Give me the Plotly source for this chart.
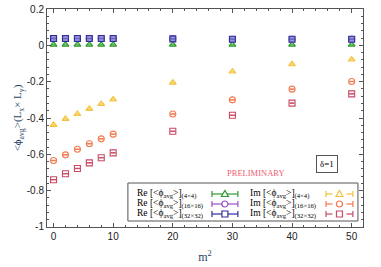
import plotly.graph_objects as go

m2 = [0, 2, 4, 6, 8, 10, 20, 30, 40, 50]

re_4 = [0.004, 0.004, 0.004, 0.004, 0.004, 0.004, 0.004, 0.004, 0.004, 0.004]
re_16 = [0.038, 0.038, 0.038, 0.038, 0.038, 0.038, 0.036, 0.034, 0.034, 0.034]
re_32 = [0.038, 0.038, 0.038, 0.038, 0.038, 0.038, 0.036, 0.034, 0.034, 0.034]
im_4 = [-0.438, -0.405, -0.378, -0.350, -0.323, -0.298, -0.205, -0.144, -0.104, -0.078]
im_16 = [-0.634, -0.603, -0.572, -0.542, -0.515, -0.489, -0.378, -0.300, -0.241, -0.199]
im_32 = [-0.740, -0.707, -0.678, -0.647, -0.619, -0.592, -0.473, -0.385, -0.318, -0.267]

y_ticks = [-1, -0.8, -0.6, -0.4, -0.2, 0, 0.2]
y_labels = ["-1", "-0.8", "-0.6", "-0.4", "-0.2", "0", "0.2"]
x_ticks = [0, 10, 20, 30, 40, 50]
x_labels = ["0", "10", "20", "30", "40", "50"]

PHI = "&lt;ϕ<sub>avg</sub>&gt;"
# (name, values, symbol, line colour, fill colour, legend column, legend row)
series = [
    ("Re [" + PHI + "]<sub>(4×4)</sub>", re_4, "triangle-up", "#2e9a2e", "rgba(120,200,120,0.7)", 0, 0),
    ("Re [" + PHI + "]<sub>(16×16)</sub>", re_16, "circle", "#9a4fc8", "rgba(190,150,220,0.6)", 0, 1),
    ("Re [" + PHI + "]<sub>(32×32)</sub>", re_32, "square", "#2f2f9a", "rgba(130,130,210,0.7)", 0, 2),
    ("Im [" + PHI + "]<sub>(4×4)</sub>", im_4, "triangle-up", "#f2c23c", "rgba(250,220,120,0.7)", 1, 0),
    ("Im [" + PHI + "]<sub>(16×16)</sub>", im_16, "circle", "#f07a50", "rgba(255,255,255,0)", 1, 1),
    ("Im [" + PHI + "]<sub>(32×32)</sub>", im_32, "square", "#c84a64", "rgba(255,255,255,0)", 1, 2),
]

fig = go.Figure()
for name, vals, sym, col, fill, c, r in series:
    fig.add_trace(go.Scatter(
        x=m2, y=vals, mode="markers", name=name, showlegend=False,
        marker=dict(symbol=sym, size=6, color=fill, line=dict(color=col, width=1.1)),
        error_y=dict(type="constant", value=0.001, width=2.5, color=col, thickness=1),
    ))

# ---- hand-built legend (gnuplot style: text left, key right) ----
fig.add_shape(type="rect", xref="paper", yref="paper", x0=0.256, x1=0.984, y0=0.0275, y1=0.2018,
              line=dict(color="#555555", width=1), fillcolor="white", layer="above")
row_y = [0.1514, 0.1055, 0.0596]
text_x = [0.278, 0.636]
key_x = [(0.522, 0.604), (0.883, 0.968)]
for name, vals, sym, col, fill, c, r in series:
    y = row_y[r]
    fig.add_annotation(x=text_x[c], y=y, xref="paper", yref="paper", text=name, showarrow=False,
                       xanchor="left", yanchor="middle",
                       font=dict(family="Liberation Serif", size=9.5, color="black"))
    k0, k1 = key_x[c]
    km = (k0 + k1) / 2
    if c == 0:
        fig.add_shape(type="line", xref="paper", yref="paper", x0=k0, x1=k1, y0=y, y1=y,
                      line=dict(color=col, width=1.2), layer="above")
    else:
        for a, b in ((k0, km - 0.022), (km + 0.022, k1)):
            fig.add_shape(type="line", xref="paper", yref="paper", x0=a, x1=b, y0=y, y1=y,
                          line=dict(color=col, width=1.2), layer="above")
    for kx in (k0, k1):
        fig.add_shape(type="line", xref="paper", yref="paper", xsizemode="pixel", ysizemode="pixel",
                      xanchor=kx, yanchor=y, x0=0, x1=0, y0=-3, y1=3,
                      line=dict(color=col, width=1.2), layer="above")
    common = dict(xref="paper", yref="paper", xsizemode="pixel", ysizemode="pixel",
                  xanchor=km, yanchor=y, line=dict(color=col, width=1.2), layer="above")
    if sym == "circle":
        fig.add_shape(type="circle", x0=-3, x1=3, y0=-3, y1=3, fillcolor="white", **common)
    elif sym == "square":
        fig.add_shape(type="rect", x0=-3, x1=3, y0=-3, y1=3, fillcolor="white", **common)
    else:
        fig.add_shape(type="path", path="M -3.5,-2.5 L 3.5,-2.5 L 0,3.5 Z", fillcolor="white", **common)

fig.add_annotation(x=0.759, y=0.2156, xref="paper", yref="paper", text="PRELIMINARY",
                   showarrow=False, font=dict(family="Liberation Serif", size=8.5, color="#f06070"))
fig.add_annotation(x=0.921, y=0.25, xref="paper", yref="paper", text="δ=1",
                   showarrow=False, font=dict(family="Liberation Serif", size=9, color="black"),
                   bordercolor="#555555", borderwidth=1, borderpad=3, bgcolor="white")

axis_common = dict(showline=True, linecolor="#555555", linewidth=1, mirror="allticks",
                   ticks="inside", ticklen=4, tickcolor="#555555", showgrid=False, zeroline=False,
                   automargin=False,
                   tickfont=dict(family="Liberation Sans", size=10, color="#222222"))

fig.update_xaxes(range=[-1.1, 51.9], tickvals=x_ticks, ticktext=x_labels,
                 minor=dict(dtick=2, ticks="inside", ticklen=2, tickcolor="#555555"),
                 title=dict(text="m<sup>2</sup>", font=dict(family="Liberation Serif", size=12), standoff=11),
                 **axis_common)
fig.update_yaxes(range=[-1.0005, 0.2005], tickvals=y_ticks, ticktext=y_labels,
                 minor=dict(dtick=0.04, tick0=0, ticks="inside", ticklen=2, tickcolor="#555555"),
                 title=dict(text="&lt;ϕ<sub>avg</sub>&gt;(L<sub>x</sub>× L<sub>y</sub>)",
                            font=dict(family="Liberation Serif", size=11), standoff=2),
                 **axis_common)

fig.update_layout(
    width=381, height=267,
    margin=dict(l=47, r=18, t=9, b=40),
    paper_bgcolor="white", plot_bgcolor="white",
    showlegend=False,
)

fig.write_html("out.html", config={"displayModeBar": False},
               post_script="document.body.style.margin='0';")
